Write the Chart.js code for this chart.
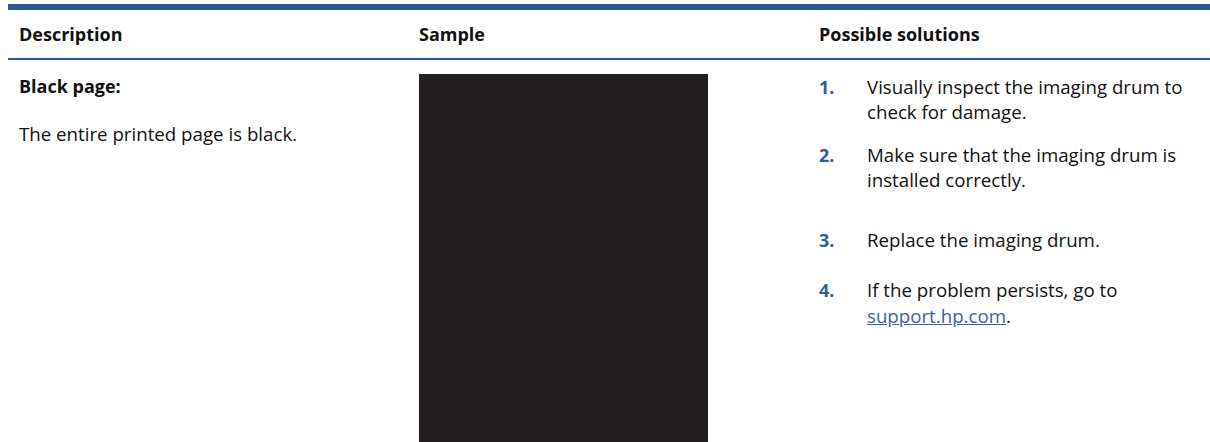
<!DOCTYPE html>
<html>
<head>
<meta charset="utf-8">
<title>Black page</title>
<script src="https://cdn.jsdelivr.net/npm/chart.js@4.4.1/dist/chart.umd.min.js"></script>
<style>
  html, body { margin: 0; padding: 0; background: #fff; }
  body {
    width: 1210px;
    height: 442px;
    position: relative;
    overflow: hidden;
    font-family: 'Open Sans', Lato, sans-serif;
    color: #111;
  }
  .rule { position: absolute; left: 8px; right: 0; background: #2b5893; }
  .rule-top { top: 4px; height: 6px; }
  .rule-head { top: 58px; height: 2px; }
  .line {
    position: absolute;
    white-space: nowrap;
    font-size: 18.7px;
    height: 24px;
    line-height: 24px;
  }
  .bold { font-weight: 700; font-size: 18px; }
  .num { font-weight: 700; font-size: 18px; color: #2f5c94; }
  a { color: #3565a5; text-decoration: underline; }
  #sample { position: absolute; left: 419px; top: 74px; width: 289px; height: 368px; }
</style>
</head>
<body>
<div class="rule rule-top"></div>
<div class="rule rule-head"></div>
<div id="text"></div>
<div id="sample"><canvas id="sampleChart"></canvas></div>

<script>
// table content
const headers = ['Description', 'Sample', 'Possible solutions'];
const problemTitle = 'Black page:';
const problemText = 'The entire printed page is black.';
const stepNumbers = ['1.', '2.', '3.', '4.'];
const stepLines = [
  ['Visually inspect the imaging drum to', 'check for damage.'],
  ['Make sure that the imaging drum is', 'installed correctly.'],
  ['Replace the imaging drum.'],
  ['If the problem persists, go to', '<a href="#">support.hp.com</a>.'],
];

// sample: the whole page comes out black
const sampleLabels = ['Black page'];
const sampleCoverage = [100];

// layout
const colX = [19, 419, 819];
const stepTextX = 867;
const headerY = 34;
const problemY = [86, 134];
const stepY = [[87, 112], [155, 180], [240], [290, 316]];

const textLayer = document.getElementById('text');

function addLine(x, centerY, html, cls) {
  const el = document.createElement('div');
  el.className = 'line' + (cls ? ' ' + cls : '');
  el.style.left = x + 'px';
  el.style.top = (centerY - 12) + 'px';
  el.innerHTML = html;
  textLayer.appendChild(el);
}

headers.forEach((h, i) => addLine(colX[i], headerY, h, 'bold'));
addLine(colX[0], problemY[0], problemTitle, 'bold');
addLine(colX[0], problemY[1], problemText);

stepNumbers.forEach((n, i) => {
  addLine(colX[2], stepY[i][0], n, 'num');
  stepLines[i].forEach((t, j) => addLine(stepTextX, stepY[i][j], t));
});

new Chart(document.getElementById('sampleChart'), {
  type: 'bar',
  data: {
    labels: sampleLabels,
    datasets: [{
      data: sampleCoverage,
      backgroundColor: '#231f20',
      borderWidth: 0,
      barPercentage: 1,
      categoryPercentage: 1,
    }],
  },
  options: {
    responsive: true,
    maintainAspectRatio: false,
    animation: false,
    layout: { padding: 0 },
    plugins: {
      legend: { display: false },
      tooltip: { enabled: false },
    },
    scales: {
      x: { display: false },
      y: { display: false, min: 0, max: 100 },
    },
  },
});
</script>
</body>
</html>
